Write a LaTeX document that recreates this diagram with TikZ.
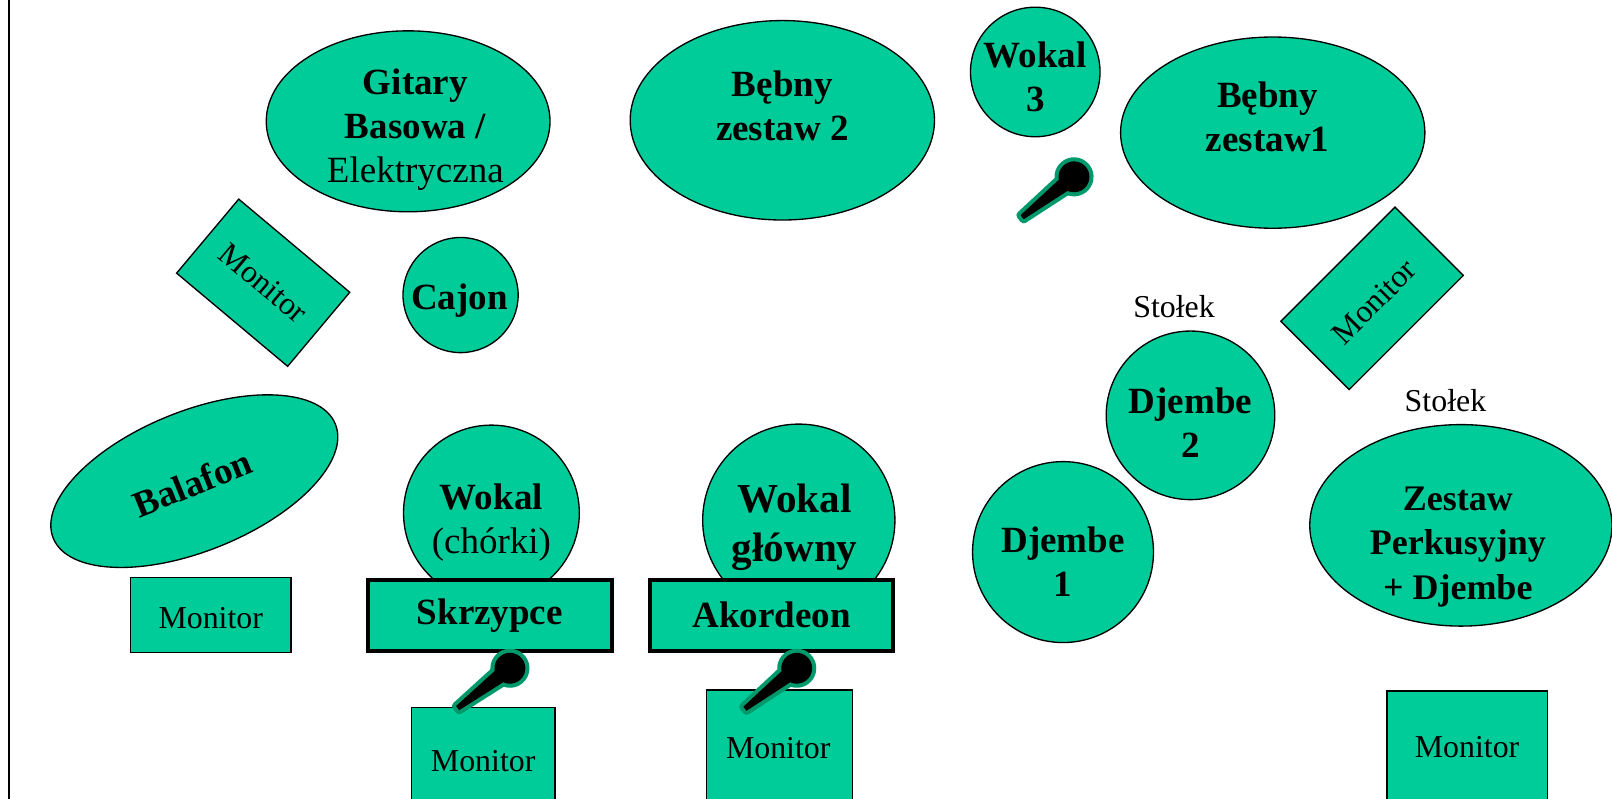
\documentclass[tikz,border=0pt]{standalone}
\usepackage{fontspec}
\setmainfont{Liberation Serif}
\usetikzlibrary{shapes.geometric}
\definecolor{grn}{HTML}{00CC99}
\definecolor{micc}{HTML}{00996B}
\begin{document}
\begin{tikzpicture}[x=1pt,y=-1pt,
  shp/.style={draw=black, fill=grn, line width=1.3pt, inner sep=0pt},
  ell/.style={shp, ellipse},
  circ/.style={shp, circle},
  box/.style={shp, rectangle},
  thickbox/.style={shp, rectangle, line width=4pt},
  bt/.style={font=\fontsize{36}{43}\selectfont\bfseries, align=center, inner sep=0pt},
  bigt/.style={font=\fontsize{40}{48}\selectfont\bfseries, align=center, inner sep=0pt},
  mt/.style={font=\fontsize{31}{37}\selectfont, inner sep=0pt},
  mic/.pic={
    \draw[micc, line width=8pt, line join=round] (0,0) circle[radius=15];
    \draw[micc, line width=8pt, line join=round] (6,-7.5) -- (64,-2.5) -- (64,2.5) -- (6,7.5) -- cycle;
    \fill[black] (0,0) circle[radius=15];
    \fill[black] (6,-7.5) -- (64,-2.5) -- (64,2.5) -- (6,7.5) -- cycle;
  }
]
\useasboundingbox (0,0) rectangle (1568,777);
\draw[line width=2pt] (9,0) -- (9,777);

% top row
\node[ell, minimum width=276pt, minimum height=176pt] (gitary) at (397,118) {};
\node[bt] (gitaryT) at (404,126) {Gitary\\Basowa /\\{\mdseries Elektryczna}};
\node[ell, minimum width=296pt, minimum height=194pt] (bebny2) at (761,117) {};
\node[bt] (bebny2T) at (761,103) {Bębny\\zestaw 2};
\node[circ, minimum size=126pt] (wokal3) at (1007,70) {};
\node[bt] (wokal3T) at (1007,75) {Wokal\\3};
\node[ell, minimum width=296pt, minimum height=186pt] (bebny1) at (1238,129) {};
\node[bt] (bebny1T) at (1233,114) {Bębny\\zestaw1};

% monitors rotated
\node[box, minimum width=141pt, minimum height=94pt, rotate=-40] (monL) at (256,275) {};
\node[mt, rotate=-40] (monLT) at (256,275) {Monitor};
\node[box, minimum width=157pt, minimum height=94pt, rotate=45] (monR) at (1334.6,290.2) {};
\node[mt, rotate=45] (monRT) at (1336.6,293.5) {Monitor};

\node[circ, minimum size=112pt] (cajon) at (448,287) {};
\node[bt] (cajonT) at (447,292) {Cajon};

\node[ell, minimum width=296pt, minimum height=136pt, rotate=22] (balafon) at (189,468) {};
\node[bt, rotate=22] (balafonT) at (187,470) {Balafon};
\node[box, minimum width=156pt, minimum height=73pt] (monB) at (205,598.5) {};
\node[mt] (monBT) at (205,601) {Monitor};

% vocals + instruments
\node[circ, minimum size=171pt] (chorki) at (478,499) {};
\node[bt] (chorkiT) at (478,508) {Wokal\\{\mdseries (chórki)}};
\node[thickbox, minimum width=237pt, minimum height=69pt, font=\fontsize{36}{43}\selectfont\bfseries] (skrzypce) at (476.5,598.5) {Skrzypce};
\node[circ, minimum size=187pt] (glowny) at (777,506) {};
\node[bigt] (glownyT) at (773,513) {Wokal\\główny};
\node[thickbox, minimum width=237pt, minimum height=69pt, font=\fontsize{36}{43}\selectfont\bfseries] (akordeon) at (750.5,598.5) {Akordeon};

\node[box, minimum width=140pt, minimum height=112pt] (monS) at (470,744) {};
\node[mt] (monST) at (470,740) {Monitor};
\node[box, minimum width=142pt, minimum height=129pt] (monA) at (758,735.5) {};
\node[mt] (monAT) at (757,728) {Monitor};

\pic[rotate=217.3] (micS) at (496,650) {mic};
\pic[rotate=218] (micA) at (775,650) {mic};
\pic[rotate=217.9] (mic3) at (1044.7,172) {mic};

% right side
\node[mt] (stolek1) at (1142,298) {Stołek};
\node[mt] (stolek2) at (1406,390) {Stołek};
\node[circ, minimum size=164pt] (djembe2) at (1158,404) {};
\node[bt] (djembe2T) at (1158,411) {Djembe\\2};
\node[circ, minimum size=176pt] (djembe1) at (1034,537) {};
\node[bt] (djembe1T) at (1034,546) {Djembe\\1};
\node[ell, minimum width=294pt, minimum height=196pt] (zestaw) at (1421,511) {};
\node[bt, font=\fontsize{35}{43}\selectfont\bfseries] (zestawT) at (1418,532) {Zestaw\\Perkusyjny\\+ Djembe};
\node[box, minimum width=156pt, minimum height=128pt] (monZ) at (1427,736) {};
\node[mt] (monZT) at (1427,727) {Monitor};
\end{tikzpicture}
\end{document}
